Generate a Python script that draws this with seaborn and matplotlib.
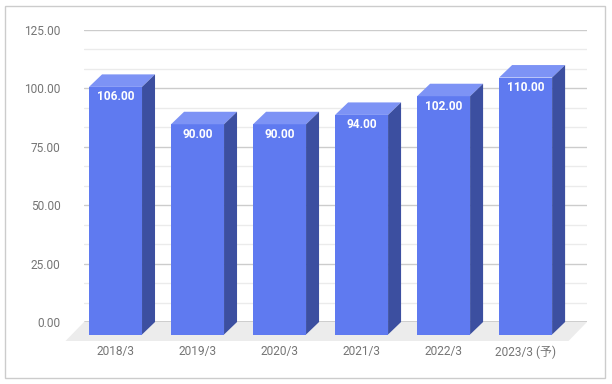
import matplotlib
matplotlib.use('Agg')
import matplotlib.pyplot as plt
import seaborn as sns
import pandas as pd
from matplotlib.patches import Polygon, Rectangle
from matplotlib.ticker import MultipleLocator, FormatStrFormatter

categories = ["2018/3", "2019/3", "2020/3", "2021/3", "2022/3", "2023/3 (予)"]
values = [106, 90, 90, 94, 102, 110]
labels = ["106.00", "90.00", "90.00", "94.00", "102.00", "110.00"]

FRONT = "#5f7af0"
TOP = "#7d93f5"
SIDE = "#3c4fa0"

sns.set_theme(style="white")
plt.rcParams['font.family'] = ['Roboto', 'Noto Sans CJK JP', 'DejaVu Sans']

W, H = 612, 384
fig = plt.figure(figsize=(W / 100, H / 100), dpi=100)
ax = fig.add_axes([84 / W, 62 / H, 503 / W, 292 / H])

df = pd.DataFrame({"cat": categories, "val": values})
sns.barplot(data=df, x="cat", y="val", color=FRONT, saturation=1, width=0.646,
            ax=ax, zorder=3, linewidth=0)

ax.set_xlim(-0.543, 5.59)
ax.set_ylim(0, 125)
ax.yaxis.set_major_locator(MultipleLocator(25))
ax.yaxis.set_minor_locator(MultipleLocator(25 / 3))
ax.yaxis.set_major_formatter(FormatStrFormatter('%.2f'))
ax.grid(which='major', axis='y', color='#cccccc', lw=1, zorder=0)
ax.grid(which='minor', axis='y', color='#ebebeb', lw=1, zorder=0)
ax.grid(which='major', axis='x', visible=False)
ax.set_axisbelow(True)
for s in ax.spines.values():
    s.set_visible(False)
ax.tick_params(axis='y', which='both', length=0, pad=17, labelsize=8.6, labelcolor='#757575')
ax.tick_params(axis='x', length=0, labelbottom=False)
ax.set_xlabel("")
ax.set_ylabel("")

# pixel -> data conversions
px_x = 503 / (5.59 + 0.543)
px_y = 292 / 125
dxd = 13 / px_x
dyd = 12.5 / px_y
fdx = 18.5 / px_x
fdy = 19 / px_y

ax.axhline(0, color='#333333', lw=1, zorder=1)

# floor
x0l, x1l = ax.get_xlim()
floor = Polygon([(x0l, 0), (x1l, 0), (x1l - fdx, -fdy), (x0l - fdx, -fdy)],
                closed=True, facecolor='#ececec', edgecolor='none', zorder=0.5, clip_on=False)
ax.add_patch(floor)

for i, p in enumerate(list(ax.patches)):
    if p is floor:
        continue
    x0 = p.get_x()
    w = p.get_width()
    h = p.get_height()
    p.set_x(x0 - dxd)
    p.set_y(-dyd)
    p.set_clip_on(False)
    top = Polygon([(x0 - dxd, h - dyd), (x0 + w - dxd, h - dyd), (x0 + w, h), (x0, h)],
                  closed=True, facecolor=TOP, edgecolor='none', zorder=3, clip_on=False)
    side = Polygon([(x0 + w - dxd, -dyd), (x0 + w, 0), (x0 + w, h), (x0 + w - dxd, h - dyd)],
                   closed=True, facecolor=SIDE, edgecolor='none', zorder=3, clip_on=False)
    ax.add_patch(top)
    ax.add_patch(side)

for i, (v, lab) in enumerate(zip(values, labels)):
    ax.annotate(lab, (i - dxd, v - dyd), xytext=(0, -10), textcoords='offset pixels',
                ha='center', va='center', color='white', fontsize=8.6, fontweight='bold',
                zorder=5, annotation_clip=False)

for i, c in enumerate(categories):
    ax.annotate(c, (i - dxd, 0), xytext=(0, -30), textcoords='offset pixels',
                ha='center', va='center', color='#757575', fontsize=8.6,
                annotation_clip=False)

fig.patches.append(Rectangle((4.5 / W, 1 - 377.5 / H), 600 / W, 372 / H,
                             transform=fig.transFigure, fill=False,
                             edgecolor='#cccccc', lw=1))

fig.savefig("out.png", dpi=100)
